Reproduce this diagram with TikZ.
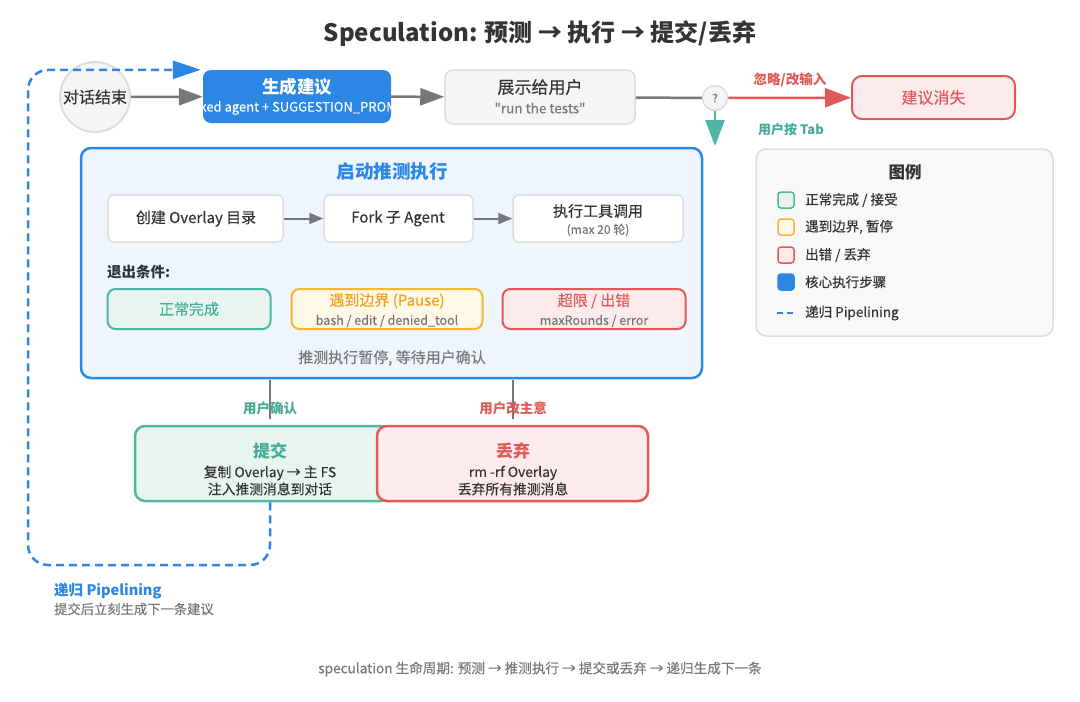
\documentclass[tikz,border=0pt]{standalone}
\usepackage{fontspec}
\setmainfont{Noto Sans CJK SC}[Ligatures=TeXOff, UprightFeatures={FakeBold=0.25}]
\usetikzlibrary{arrows.meta,calc}
\definecolor{cBlue}{HTML}{2B87E3}
\definecolor{cBlueFill}{HTML}{EEF5FC}
\definecolor{cGrayFill}{HTML}{F5F5F5}
\definecolor{cGrayLine}{HTML}{DDDDDD}
\definecolor{cArrow}{HTML}{777777}
\definecolor{cTeal}{HTML}{4DB6A4}
\definecolor{cTealText}{HTML}{45AC98}
\definecolor{cTealFill}{HTML}{E8F5EE}
\definecolor{cRed}{HTML}{E05A5A}
\definecolor{cRedFill}{HTML}{FDEBEB}
\definecolor{cOrange}{HTML}{F5B731}
\definecolor{cOrangeText}{HTML}{F0A020}
\definecolor{cOrangeFill}{HTML}{FFF8E6}
\definecolor{cDark}{HTML}{333333}
\definecolor{cMuted}{HTML}{777777}
\newcommand{\fs}[1]{\fontsize{#1}{#1}\selectfont}
\tikzset{
  boxbase/.style={rectangle, inner sep=0pt, rounded corners=8pt},
  graybox/.style={boxbase, fill=cGrayFill, draw=cGrayLine, line width=1.5pt},
  stepbox/.style={boxbase, rounded corners=6pt, fill=white, draw=cGrayLine, line width=1.5pt, minimum height=47pt},
  tealbox/.style={boxbase, fill=cTealFill, draw=cTeal, line width=2pt},
  redbox/.style={boxbase, fill=cRedFill, draw=cRed, line width=2pt},
  orangebox/.style={boxbase, fill=cOrangeFill, draw=cOrange, line width=2pt},
  txt/.style={inner sep=0pt, text=cDark},
  garrow/.style={draw=cArrow, line width=2.5pt, -{Triangle[length=24pt,width=17pt]}},
  sarrow/.style={draw=cArrow, line width=2pt, -{Triangle[length=14pt,width=11pt]}},
  gline/.style={draw=cArrow, line width=2.5pt},
  rarrow/.style={draw=cRed, line width=2.5pt, -{Triangle[length=26pt,width=19pt]}},
  tarrow/.style={draw=cTeal, line width=2.5pt, -{Triangle[length=26pt,width=19pt]}},
  dashblue/.style={draw=cBlue, line width=2.5pt, dash pattern=on 8pt off 5pt, rounded corners=20pt},
  legsq/.style={rectangle, rounded corners=3pt, minimum size=16pt, inner sep=0pt, line width=1.5pt},
}
\begin{document}
\begin{tikzpicture}[x=1pt,y=-1pt]
\useasboundingbox[fill=white] (0,0) rectangle (1080,702);

% title
\node[txt, font=\fs{24}\bfseries] (title) at (540,34) {Speculation: 预测 → 执行 → 提交/丢弃};

% top row
\node[circle, fill=cGrayFill, draw=cGrayLine, line width=2pt, minimum size=70pt, inner sep=0pt] (start) at (95,97) {};
\node[txt, font=\fs{16}] (startT) at (95,97) {对话结束};

\node[boxbase, fill=cBlue, minimum width=188pt, minimum height=53pt] (gen) at (297,96.5) {};
\begin{scope}
  \clip[rounded corners=8pt] (gen.south west) rectangle (gen.north east);
  \node[txt, text=white, font=\fs{13}] (genSub) at (296,108) {Forked agent + SUGGESTION\_PROMPT};
\end{scope}
\node[txt, text=white, font=\fs{17.5}\bfseries] (genT) at (297,87) {生成建议};

\node[graybox, minimum width=190pt, minimum height=54pt] (show) at (540,97) {};
\node[txt, font=\fs{17}] (showT) at (540,87) {展示给用户};
\node[txt, text=cMuted, font=\fs{13.5}] (showS) at (540,108) {"run the tests"};

\node[circle, fill=cGrayFill, draw=cGrayLine, line width=1.5pt, minimum size=25pt, inner sep=0pt] (q) at (715,98) {};
\node[txt, text=cMuted, font=\fs{11}] (qT) at (715,98) {?};

\node[redbox, minimum width=163pt, minimum height=43pt, rounded corners=10pt] (lost) at (933.5,97.5) {};
\node[txt, text=cRed, font=\fs{16}] (lostT) at (933.5,97.5) {建议消失};

\draw[garrow] (start) -- (gen);
\draw[garrow] (gen) -- (show);
\draw[gline] (show) -- (q);
\draw[rarrow] (q) -- (lost);
\node[txt, text=cRed, font=\fs{13.5}\bfseries] (ignT) at (790,80) {忽略/改输入};
\coordinate (tabEnd) at (715,146);
\draw[tarrow] (q) -- (tabEnd);
\node[txt, text=cTealText, font=\fs{13}\bfseries] (tabT) at (791,130) {用户按 Tab};

% speculation container
\node[boxbase, rounded corners=10pt, fill=cBlueFill, draw=cBlue, line width=2.5pt, minimum width=621pt, minimum height=230pt] (spec) at (391.5,263) {};
\node[txt, text=cBlue, font=\fs{18.5}\bfseries] (specT) at (392,172) {启动推测执行};

\node[stepbox, minimum width=175pt] (s1) at (195.5,218.5) {};
\node[txt, font=\fs{15}] (s1T) at (196,218.5) {创建 Overlay 目录};
\node[stepbox, minimum width=149pt] (s2) at (398.5,218.5) {};
\node[txt, font=\fs{15}] (s2T) at (398,218.5) {Fork 子 Agent};
\node[stepbox, minimum width=170pt] (s3) at (598,218.5) {};
\node[txt, font=\fs{15}] (s3T) at (598,211) {执行工具调用};
\node[txt, text=cMuted, font=\fs{12}] (s3S) at (598,230) {(max 20 轮)};
\draw[sarrow] (s1) -- (s2);
\draw[sarrow] (s2) -- (s3);

\node[txt, anchor=west, font=\fs{14.5}\bfseries] (exitT) at (107,272) {退出条件:};

\node[tealbox, minimum width=163pt, minimum height=40pt] (e1) at (189,309) {};
\node[txt, text=cTealText, font=\fs{15}] (e1T) at (189,309) {正常完成};
\node[orangebox, minimum width=191pt, minimum height=40pt] (e2) at (387,309) {};
\node[txt, text=cOrangeText, font=\fs{15}] (e2T) at (387,301) {遇到边界 (Pause)};
\node[txt, text=cMuted, font=\fs{12.5}] (e2S) at (387,321) {bash / edit / denied\_tool};
\node[redbox, minimum width=183pt, minimum height=40pt] (e3) at (594,309) {};
\node[txt, text=cRed, font=\fs{15}] (e3T) at (594,301) {超限 / 出错};
\node[txt, text=cMuted, font=\fs{12.5}] (e3S) at (594,321) {maxRounds / error};

\node[txt, text=cMuted, font=\fs{15}] (pauseT) at (392,358) {推测执行暂停, 等待用户确认};

% commit / discard
\coordinate (l1a) at (270,379.5);
\coordinate (l1b) at (270,419);
\coordinate (l2a) at (513,379.5);
\coordinate (l2b) at (513,419);
\draw[draw=cArrow, line width=2pt] (l1a) -- (l1b);
\draw[draw=cArrow, line width=2pt] (l2a) -- (l2b);
\node[txt, text=cTealText, font=\fs{13.5}\bfseries] (okT) at (270,408) {用户确认};
\node[txt, text=cRed, font=\fs{13.5}\bfseries] (chgT) at (513,408) {用户改主意};

\node[tealbox, line width=2.5pt, rounded corners=10pt, minimum width=255pt, minimum height=75pt] (commit) at (262.5,463.5) {};
\node[redbox, line width=2.5pt, rounded corners=10pt, minimum width=271pt, minimum height=75pt] (discard) at (512.5,463.5) {};
\node[txt, text=cTealText, font=\fs{17}\bfseries] (cmtT) at (270,451) {提交};
\node[txt, font=\fs{13.8}] (cmtA) at (270,473) {复制 Overlay → 主 FS};
\node[txt, font=\fs{13.8}] (cmtB) at (270,489) {注入推测消息到对话};
\node[txt, text=cRed, font=\fs{17}\bfseries] (disT) at (513,451) {丢弃};
\node[txt, font=\fs{13.8}] (disA) at (513,473) {rm -rf Overlay};
\node[txt, font=\fs{13.8}] (disB) at (513,489) {丢弃所有推测消息};

% recursive pipelining
\draw[dashblue, -{Triangle[length=28pt,width=18pt]}] (cmtT |- commit.south) -- (270,565) -- (28,565) -- (28,70) -- ($(gen.north west)+(-2,0)$);
\node[txt, anchor=west, text=cBlue, font=\fs{14.5}\bfseries] (pipeT) at (54,591) {递归 Pipelining};
\node[txt, anchor=west, text=cMuted, font=\fs{13.3}] (pipeS) at (54,609) {提交后立刻生成下一条建议};

% legend
\node[graybox, fill=cGrayFill!70!white, rounded corners=10pt, minimum width=297pt, minimum height=187pt] (legend) at (904.5,242.5) {};
\node[txt, font=\fs{16.5}\bfseries] (legT) at (905,172) {图例};
\node[legsq, fill=cTealFill, draw=cTeal] (lg1) at (786,200) {};
\node[txt, anchor=west, font=\fs{13.5}] (lg1T) at (805,200) {正常完成 / 接受};
\node[legsq, fill=cOrangeFill, draw=cOrange] (lg2) at (786,227) {};
\node[txt, anchor=west, font=\fs{13.5}] (lg2T) at (805,227) {遇到边界, 暂停};
\node[legsq, fill=cRedFill, draw=cRed] (lg3) at (786,255) {};
\node[txt, anchor=west, font=\fs{13.5}] (lg3T) at (805,255) {出错 / 丢弃};
\node[legsq, fill=cBlue, draw=cBlue] (lg4) at (786,282) {};
\node[txt, anchor=west, font=\fs{13.5}] (lg4T) at (805,282) {核心执行步骤};
\coordinate (lg5a) at (777,313);
\coordinate (lg5b) at (796,313);
\draw[draw=cBlue, line width=2.5pt, dash pattern=on 6pt off 4pt] (lg5a) -- (lg5b);
\node[txt, anchor=west, font=\fs{13.5}] (lg5T) at (805,313) {递归 Pipelining};

% footer
\node[txt, text=cMuted, font=\fs{13.6}] (foot) at (540,669) {speculation 生命周期: 预测 → 推测执行 → 提交或丢弃 → 递归生成下一条};
\end{tikzpicture}
\end{document}
